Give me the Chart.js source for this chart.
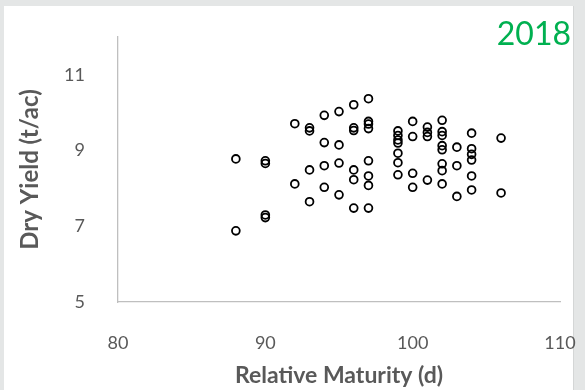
<!DOCTYPE html>
<html>
<head>
<meta charset="utf-8">
<script src="https://cdn.jsdelivr.net/npm/chart.js@4"></script>
<style>
    html, body { margin: 0; padding: 0; }
    body { width: 585px; height: 390px; background: #e4e6e6; position: relative; overflow: hidden; }
    #wrap { position: absolute; left: 4px; top: 6px; width: 569px; height: 384px; background: #ffffff; border-right: 1px solid #d4d6d6; }
    #chart { display: block; position: absolute; left: 0; top: 0; }
</style>
</head>
<body>
<div id="wrap"><canvas id="chart" width="581" height="384"></canvas></div>
<script>
// relative maturity (days) and dry yield (t/ac)
const maturity = [
    88, 88,
    90, 90, 90, 90,
    92, 92,
    93, 93, 93, 93,
    94, 94, 94, 94,
    95, 95, 95, 95,
    96, 96, 96, 96, 96, 96,
    97, 97, 97, 97, 97, 97, 97, 97,
    99, 99, 99, 99, 99, 99, 99,
    100, 100, 100, 100,
    101, 101, 101, 101,
    102, 102, 102, 102, 102, 102, 102, 102,
    103, 103, 103,
    104, 104, 104, 104, 104, 104,
    106, 106
];
const dryYield = [
    8.78, 6.88,
    8.73, 8.66, 7.30, 7.23,
    9.71, 8.12,
    9.60, 9.52, 8.49, 7.65,
    9.93, 9.21, 8.60, 8.03,
    10.03, 9.15, 8.67, 7.83,
    10.21, 9.60, 9.53, 8.49, 8.23, 7.48,
    10.37, 9.77, 9.70, 9.58, 8.73, 8.33, 8.08, 7.48,
    9.52, 9.40, 9.28, 9.20, 8.93, 8.68, 8.36,
    9.77, 9.37, 8.40, 8.03,
    9.62, 9.48, 9.37, 8.22,
    9.80, 9.50, 9.40, 9.13, 9.02, 8.65, 8.47, 8.12,
    9.09, 8.60, 7.79,
    9.46, 9.05, 8.90, 8.75, 8.33, 7.96,
    9.33, 7.88
];
const xTicks = [80, 90, 100, 110];
const yTicks = [5, 7, 9, 11];
const yearLabel = '2018';

const points = maturity.map((m, i) => ({ x: m, y: dryYield[i] }));

const textGray = '#595959';
const axisGray = '#bfbfbf';

// year label in the top right corner
const yearPlugin = {
    id: 'yearLabel',
    afterDraw(chart) {
        const ctx = chart.ctx;
        ctx.save();
        ctx.font = '32px Lato';
        ctx.fillStyle = '#00b050';
        ctx.textAlign = 'right';
        ctx.textBaseline = 'middle';
        ctx.fillText(yearLabel, 567, 29);
        ctx.restore();
    }
};

new Chart(document.getElementById('chart').getContext('2d'), {
    type: 'scatter',
    data: {
        datasets: [{
            label: 'Dry Yield',
            data: points,
            pointStyle: 'circle',
            pointRadius: 3.9,
            pointHoverRadius: 3.9,
            pointBorderWidth: 1.8,
            pointBorderColor: '#000000',
            pointBackgroundColor: 'rgba(0,0,0,0)'
        }]
    },
    options: {
        responsive: false,
        animation: false,
        layout: { padding: { left: 0, top: 31, right: 25, bottom: 0 } },
        plugins: { legend: { display: false }, tooltip: { enabled: false } },
        scales: {
            x: {
                type: 'linear',
                min: 80,
                max: 110,
                afterBuildTicks: (scale) => { scale.ticks = xTicks.map(v => ({ value: v })); },
                afterFit: (scale) => { scale.height = 88; scale.paddingLeft = 0; scale.paddingRight = 0; },
                grid: { display: false },
                border: { display: true, color: axisGray, width: 1.3 },
                ticks: { color: textGray, font: { family: 'Lato', size: 18 }, padding: 22, maxRotation: 0 },
                title: {
                    display: true,
                    text: 'Relative Maturity (d)',
                    color: textGray,
                    font: { family: 'Lato', size: 23, weight: 'bold' },
                    padding: { top: 0, bottom: 1 }
                }
            },
            y: {
                type: 'linear',
                min: 5,
                max: 12,
                afterBuildTicks: (scale) => { scale.ticks = yTicks.map(v => ({ value: v })); },
                afterFit: (scale) => { scale.width = 114; scale.paddingTop = 0; scale.paddingBottom = 0; },
                grid: { display: false },
                border: { display: true, color: axisGray, width: 1.3 },
                ticks: { color: textGray, font: { family: 'Lato', size: 18 }, padding: 25 },
                title: {
                    display: true,
                    text: 'Dry Yield (t/ac)',
                    color: textGray,
                    font: { family: 'Lato', size: 24, weight: 'bold' },
                    padding: { top: 12, bottom: 0 }
                }
            }
        }
    },
    plugins: [yearPlugin]
});
</script>
</body>
</html>
